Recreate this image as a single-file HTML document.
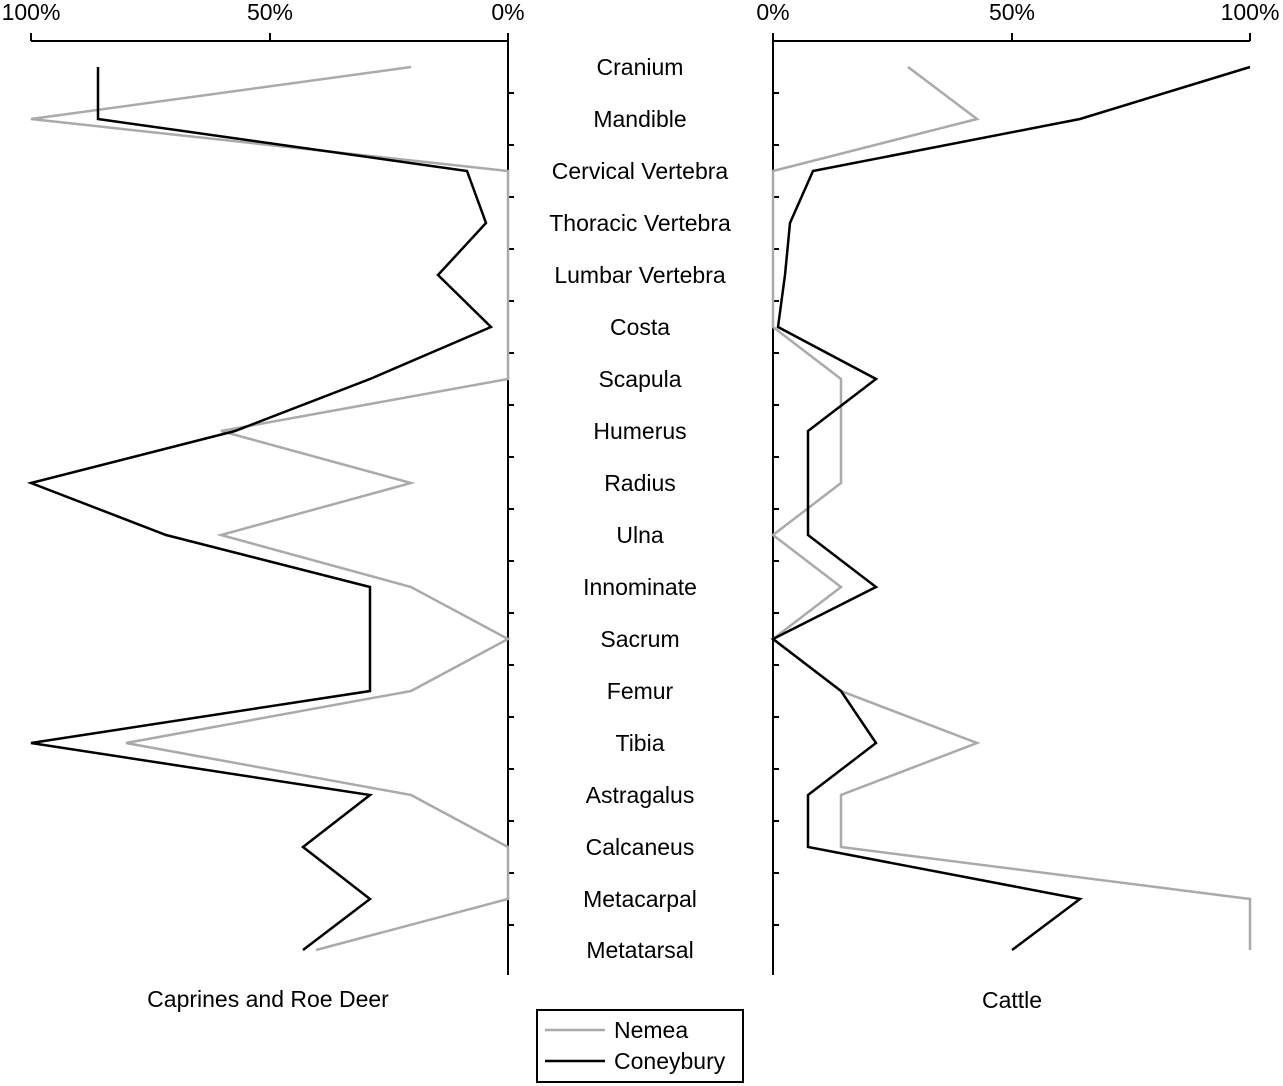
<!DOCTYPE html>
<html><head><meta charset="utf-8"><style>
html,body{margin:0;padding:0;background:#fff;}
svg{display:block;}
text{font-family:"Liberation Sans",sans-serif;font-size:23px;fill:#000;}
</style></head><body>
<svg width="1283" height="1086" viewBox="0 0 1283 1086" xmlns="http://www.w3.org/2000/svg">
<g stroke="#000" stroke-width="2" fill="none">
<line x1="31" y1="41" x2="508" y2="41"/>
<line x1="31" y1="41" x2="31" y2="33"/><line x1="270" y1="41" x2="270" y2="33"/><line x1="508" y1="33" x2="508" y2="975"/>
<line x1="773" y1="41" x2="1250" y2="41"/>
<line x1="773" y1="33" x2="773" y2="975"/><line x1="1012" y1="41" x2="1012" y2="33"/><line x1="1250" y1="41" x2="1250" y2="33"/>
<path d="M508 93h6M508 145h6M508 197h6M508 249h6M508 301h6M508 353h6M508 405h6M508 457h6M508 509h6M508 561h6M508 613h6M508 665h6M508 717h6M508 769h6M508 821h6M508 873h6M508 925h6"/>
<path d="M773 93h6M773 145h6M773 197h6M773 249h6M773 301h6M773 353h6M773 405h6M773 457h6M773 509h6M773 561h6M773 613h6M773 665h6M773 717h6M773 769h6M773 821h6M773 873h6M773 925h6"/>
</g>
<g fill="none" stroke-width="2.5" stroke-linejoin="miter">
<polyline stroke="#aaa" points="411,67 31,119 508,171 508,223 508,275 508,327 508,379 221,431 411,483 221,535 411,587 508,639 411,691 126,743 411,795 508,847 508,899 316,950"/>
<polyline stroke="#000" points="98,67 98,119 467,171 486,223 438,275 491,327 370,379 235,431 31,483 166,535 370,587 370,639 370,691 31,743 370,795 303,847 370,899 303,950"/>
<polyline stroke="#aaa" points="908,67 977,119 773,171 773,223 773,275 773,327 841,379 841,431 841,483 773,535 841,587 773,639 841,691 977,743 841,795 841,847 1250,899 1250,950"/>
<polyline stroke="#000" points="1250,67 1080,119 813,171 790,223 785,275 778,327 876,379 808,431 808,483 808,535 876,587 773,639 841,691 876,743 808,795 808,847 1080,899 1012,950"/>
</g>
<g text-anchor="middle">
<text x="31" y="20">100%</text><text x="270" y="20">50%</text><text x="508" y="20">0%</text>
<text x="773" y="20">0%</text><text x="1012" y="20">50%</text><text x="1250" y="20">100%</text>
<text x="640" y="75">Cranium</text>
<text x="640" y="127">Mandible</text>
<text x="640" y="179">Cervical Vertebra</text>
<text x="640" y="231">Thoracic Vertebra</text>
<text x="640" y="283">Lumbar Vertebra</text>
<text x="640" y="335">Costa</text>
<text x="640" y="387">Scapula</text>
<text x="640" y="439">Humerus</text>
<text x="640" y="491">Radius</text>
<text x="640" y="543">Ulna</text>
<text x="640" y="595">Innominate</text>
<text x="640" y="647">Sacrum</text>
<text x="640" y="699">Femur</text>
<text x="640" y="751">Tibia</text>
<text x="640" y="803">Astragalus</text>
<text x="640" y="855">Calcaneus</text>
<text x="640" y="907">Metacarpal</text>
<text x="640" y="958">Metatarsal</text>
<text x="268" y="1007">Caprines and Roe Deer</text>
<text x="1012" y="1008">Cattle</text>
</g>
<rect x="537" y="1010" width="206" height="72" fill="none" stroke="#000" stroke-width="2"/>
<line x1="545" y1="1030" x2="605" y2="1030" stroke="#aaa" stroke-width="2.5"/>
<line x1="545" y1="1061" x2="605" y2="1061" stroke="#000" stroke-width="2.5"/>
<text x="614" y="1038">Nemea</text>
<text x="614" y="1069">Coneybury</text>
</svg>
</body></html>
